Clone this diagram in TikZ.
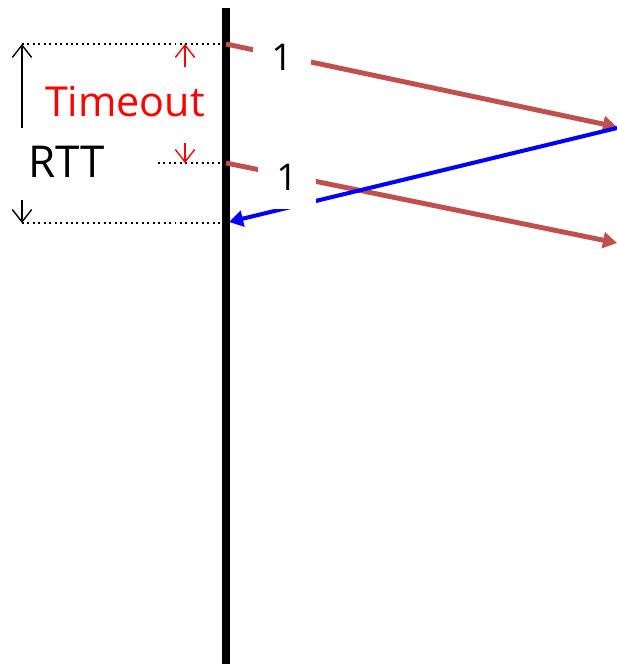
\documentclass[tikz,border=0pt]{standalone}
\usepackage{fontspec}
\setmainfont{Open Sans}
\usetikzlibrary{arrows.meta}
\definecolor{segred}{RGB}{192,80,77}
\tikzset{
  timeline/.style={line width=4pt},
  guide/.style={dotted, line width=1.1pt},
  span/.style={line width=0.8pt, -{Straight Barb[length=7pt,width=11pt]}},
  seg/.style={line width=2.8pt, draw=segred, -{Triangle[length=8pt,width=9pt]}},
  ack/.style={line width=2.3pt, draw=blue, -{Triangle[length=8pt,width=9pt]}},
  seqnum/.style={fill=white, inner sep=0pt, minimum width=1.18cm, minimum height=1.3cm,
    font=\fontsize{21}{21}\selectfont}
}
\begin{document}
\begin{tikzpicture}[x=0.02cm, y=-0.02cm]
    \useasboundingbox (0,0) rectangle (617,666);

    % time line of the sender
    \draw[timeline] (226,8) -- (226,664);

    \coordinate (t0) at (222,44);
    \coordinate (t1) at (222,163);
    \coordinate (t2) at (228,223);
    \draw[guide] (22,44) -- (t0);
    \draw[guide] (158,163) -- (t1);
    \draw[guide] (22,223) -- (t2);

    % RTT and Timeout
    \node (rtt) at (67,162) {\fontsize{25}{25}\selectfont RTT};
    \node[text=red] (timeout) at (125,102) {\fontsize{23.5}{23.5}\selectfont Timeout};
    \draw[span] (22,128) -- (22,44);
    \draw[span] (22,200) -- (22,223);
    \draw[span, red] (185,67) -- (185,44);
    \draw[span, red] (185,143) -- (185,163);

    % segments and ack
    \coordinate (s1) at (226,44);
    \coordinate (r1) at (617,127);
    \coordinate (s2) at (226,163);
    \coordinate (r2) at (617,243);
    \coordinate (a1) at (617,128);
    \coordinate (a2) at (229,222);
    \draw[seg] (s1) -- (r1);
    \draw[seg] (s2) -- (r2);
    \draw[ack] (a1) -- (a2);

    \node[seqnum] (one1) at (282,57) {1};
    \node[seqnum] (one2) at (287,177) {1};

  \end{tikzpicture}
\end{document}
